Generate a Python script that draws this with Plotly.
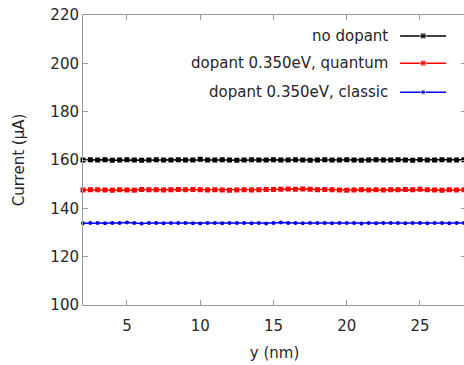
import plotly.graph_objects as go

y_nm = [2.0, 2.5, 3.0, 3.5, 4.0, 4.5, 5.0, 5.5, 6.0, 6.5, 7.0, 7.5, 8.0, 8.5, 9.0, 9.5,
        10.0, 10.5, 11.0, 11.5, 12.0, 12.5, 13.0, 13.5, 14.0, 14.5, 15.0, 15.5, 16.0,
        16.5, 17.0, 17.5, 18.0, 18.5, 19.0, 19.5, 20.0, 20.5, 21.0, 21.5, 22.0, 22.5,
        23.0, 23.5, 24.0, 24.5, 25.0, 25.5, 26.0, 26.5, 27.0, 27.5, 28.0]

no_dopant = [160.0, 160.1, 160.0, 160.1, 159.9, 160.0, 160.1, 160.0, 159.9, 160.0,
             160.1, 160.0, 160.0, 160.1, 160.0, 160.0, 160.3, 160.0, 160.0, 160.1,
             160.0, 159.9, 160.0, 160.1, 160.0, 160.0, 160.1, 160.0, 160.0, 160.1,
             160.0, 159.9, 160.0, 160.1, 160.0, 160.0, 160.1, 160.0, 159.9, 160.0,
             160.1, 160.0, 160.0, 160.1, 160.0, 159.9, 160.1, 160.0, 160.0, 160.1,
             160.0, 160.0, 160.1]

quantum = [147.6, 147.7, 147.7, 147.6, 147.5, 147.7, 147.6, 147.5, 147.8, 147.7,
           147.7, 147.6, 147.7, 147.8, 147.7, 147.8, 147.7, 147.6, 147.7, 147.6,
           147.5, 147.6, 147.7, 147.6, 147.7, 147.8, 147.8, 147.9, 148.0, 147.9,
           148.0, 147.9, 147.7, 147.8, 147.7, 147.6, 147.5, 147.6, 147.7, 147.6,
           147.7, 147.6, 147.7, 147.7, 147.8, 147.7, 147.9, 147.7, 147.6, 147.5,
           147.7, 147.6, 147.7]

classic = [133.8, 133.9, 133.9, 133.8, 133.9, 133.9, 134.1, 133.9, 133.7, 133.9,
           133.9, 133.8, 133.9, 133.9, 133.9, 133.8, 133.7, 133.9, 133.9, 133.8,
           133.9, 133.9, 133.9, 133.8, 133.9, 133.7, 133.9, 134.1, 133.9, 133.9,
           133.8, 133.9, 133.9, 133.9, 133.8, 133.9, 133.9, 133.9, 133.7, 133.9,
           133.8, 133.9, 133.9, 133.9, 133.8, 133.9, 133.9, 133.8, 133.9, 133.9,
           133.8, 133.9, 133.9]

series_names = ["no dopant", "dopant 0.350eV, quantum", "dopant 0.350eV, classic"]
series_colors = ["#000000", "#ff0000", "#0000ff"]
series_symbols = ["square", "square", "circle"]
series_sizes = [5, 5, 4]
legend_sizes = [6, 6, 5]
series_values = [no_dopant, quantum, classic]

x_ticks = [5, 10, 15, 20, 25]
y_ticks = [100, 120, 140, 160, 180, 200, 220]

FONT = "DejaVu Sans, Verdana, sans-serif"
FS = 15
TXT = "#262626"
AX = "#999999"

fig = go.Figure()
for name, vals, col, sym, sz in zip(series_names, series_values, series_colors,
                                    series_symbols, series_sizes):
    fig.add_trace(go.Scatter(x=y_nm, y=vals, mode="lines+markers", name=name,
                             line=dict(color=col, width=1.5),
                             marker=dict(symbol=sym, size=sz, color=col),
                             showlegend=False, cliponaxis=False))

# legend (gnuplot style: text right-aligned, sample to the right)
leg_y = [0.928, 0.834, 0.734]
for name, col, sym, sz, ly in zip(series_names, series_colors, series_symbols,
                                   legend_sizes, leg_y):
    fig.add_trace(go.Scatter(x=[0.828, 0.888, 0.948], y=[ly, ly, ly],
                             mode="lines+markers", xaxis="x2", yaxis="y2",
                             line=dict(color=col, width=1.5),
                             marker=dict(symbol=sym, size=[0, sz, 0], color=col),
                             showlegend=False, hoverinfo="skip"))
    fig.add_annotation(x=0.802, y=ly, xref="paper", yref="paper", text=name,
                       showarrow=False, xanchor="right", yanchor="middle",
                       font=dict(family=FONT, size=FS, color=TXT))

fig.update_layout(
    width=466, height=365,
    margin=dict(l=83, r=0, t=15, b=60),
    plot_bgcolor="white", paper_bgcolor="white",
    font=dict(family=FONT, size=FS, color=TXT),
    xaxis=dict(range=[2, 28.14], tickvals=x_ticks, ticks="inside", ticklen=5,
               tickcolor=AX, showline=True, linecolor=AX, linewidth=1,
               mirror="ticks", showgrid=False, zeroline=False,
               ticklabelstandoff=7,
               title=dict(text="y (nm)", font=dict(size=FS, color=TXT), standoff=13),
               tickfont=dict(size=FS, color=TXT)),
    yaxis=dict(range=[100, 220], tickvals=y_ticks, ticks="inside", ticklen=5,
               tickcolor=AX, showline=True, linecolor=AX, linewidth=1,
               mirror="ticks", showgrid=False, zeroline=False,
               title=dict(text="Current (μA)", font=dict(size=FS, color=TXT), standoff=22),
               tickfont=dict(size=FS, color=TXT)),
    xaxis2=dict(range=[0, 1], overlaying="x", visible=False, fixedrange=True),
    yaxis2=dict(range=[0, 1], overlaying="y", visible=False, fixedrange=True),
)

fig.write_html("out.html", config={"displayModeBar": False},
               post_script="document.body.style.margin='0';document.body.style.overflow='hidden';")
